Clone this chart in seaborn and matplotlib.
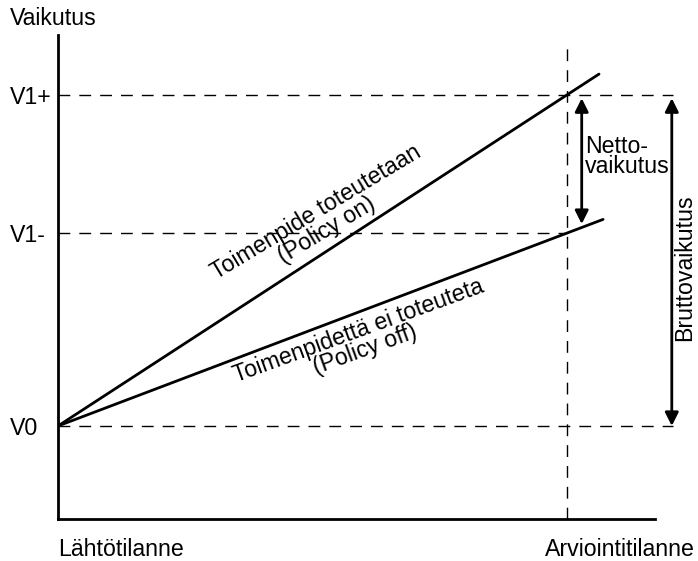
import numpy as np
import pandas as pd
import matplotlib
matplotlib.use('Agg')
import matplotlib.pyplot as plt
import seaborn as sns

# levels of the effect (V0 = start, V1- = no policy, V1+ = policy)
level_names = ['V0', 'V1-', 'V1+']
level_values = [0.0, 0.583, 1.0]

# the two scenario lines (time 0 = start, time 1 = evaluation)
on_time = [0.0, 1.063]
on_value = [0.0, 1.063]
off_time = [0.0, 1.071]
off_value = [0.0, 0.624]

time_labels = ['Lähtötilanne', 'Arviointitilanne']
eval_time = 1.0

sns.set_theme(style='white')
plt.rcParams['font.family'] = ['Liberation Sans', 'DejaVu Sans']
plt.rcParams['text.color'] = 'black'
plt.rcParams['ytick.color'] = 'black'

df = pd.DataFrame({
    'aika': on_time + off_time,
    'vaikutus': on_value + off_value,
    'skenaario': ['on'] * len(on_time) + ['off'] * len(off_time),
})

fig = plt.figure(figsize=(6.98, 5.61), dpi=100)
ax = fig.add_axes([58 / 698, 1 - 519 / 561, 597 / 698, 484 / 561])

sns.lineplot(data=df, x='aika', y='vaikutus', hue='skenaario',
             palette={'on': 'black', 'off': 'black'}, lw=2.0,
             legend=False, ax=ax)

ax.set_xlim(0, 1.173)
ax.set_ylim(-0.281, 1.181)

dash = dict(color='black', lw=1.0, dashes=(8.5, 6.5), clip_on=False, zorder=1)
v0, v1m, v1p = level_values
ax.plot([0, 1.208], [v0, v0], **dash)
ax.plot([0, 1.208], [v1p, v1p], **dash)
ax.plot([0, eval_time], [v1m, v1m], **dash)
ax.plot([eval_time, eval_time], [-0.281, 1.166], **dash)

arrow = dict(arrowstyle='<|-|>', color='black', lw=2.0,
             mutation_scale=20, shrinkA=0, shrinkB=0)
ax.annotate('', xy=(1.029, 0.99), xytext=(1.029, 0.61),
            arrowprops=arrow, annotation_clip=False)
ax.annotate('', xy=(1.206, 0.99), xytext=(1.206, 0.0),
            arrowprops=arrow, annotation_clip=False)

fs = 16.7
ax.text(1.035, 0.813, 'Netto-\nvaikutus', fontsize=fs, ha='left', va='center',
        linespacing=0.85)
ax.text(1.232, 0.477, 'Bruttovaikutus', fontsize=fs, rotation=90,
        ha='center', va='center', clip_on=False)
ax.text(0.517, 0.618, 'Toimenpide toteutetaan\n(Policy on)', fontsize=fs,
        rotation=31, rotation_mode='anchor', ha='center', va='center',
        multialignment='center', linespacing=0.85)
ax.text(0.597, 0.258, 'Toimenpidettä ei toteuteta\n(Policy off)', fontsize=fs,
        rotation=20, rotation_mode='anchor', ha='center', va='center',
        multialignment='center', linespacing=0.85)

ax.text(-0.094, 1.230, 'Vaikutus', fontsize=fs, ha='left', va='center',
        clip_on=False)
ax.text(0.0, -0.393, time_labels[0], fontsize=fs, ha='left', va='baseline',
        clip_on=False)
ax.text(0.957, -0.393, time_labels[1], fontsize=fs, ha='left', va='baseline',
        clip_on=False)

ax.set_yticks(level_values)
ax.set_yticklabels(level_names, fontsize=fs, ha='left')
ax.tick_params(axis='y', length=0, pad=34.5)
ax.set_xticks([])
ax.set_xlabel('')
ax.set_ylabel('')

sns.despine(ax=ax)
for s in ['left', 'bottom']:
    ax.spines[s].set_color('black')
    ax.spines[s].set_linewidth(2.0)

fig.savefig('out.png', dpi=100)
